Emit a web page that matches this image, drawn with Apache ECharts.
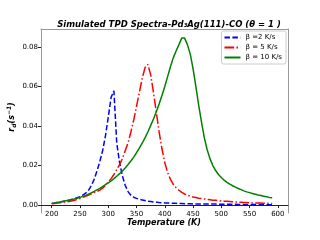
<!DOCTYPE html>
<html><head><meta charset="utf-8">
<script src="https://cdn.jsdelivr.net/npm/echarts@6/dist/echarts.min.js"></script>
<style>html,body{margin:0;padding:0;background:#fff}#c{width:320px;height:240px}</style>
</head><body><div id="c"></div>
<script>
const temps = [200,205,210,215,220,225,230,235,240,245,250,255,260,265,270,275,280,285,290,295,300,305,310,315,320,325,330,335,340,345,350,355,360,365,370,375,380,385,390,395,400,405,410,415,420,425,430,435,440,445,450,455,460,465,470,475,480,485,490,495,500,505,510,515,520,525,530,535,540,545,550,555,560,565,570,575,580,585,590];
const beta2 = [.0008,.0010,.0012,.0015,.0018,.0021,.0024,.0028,.0032,.0037,.0042,.0050,.0060,.0075,.0098,.0130,.0172,.0220,.0275,.0350,.0445,.0545,.0578,.0315,.0215,.0148,.0100,.0068,.0050,.0040,.0034,.0029,.0026,.0023,.0020,.0018,.0016,.0015,.0013,.0012,.0011,.0010,.0010,.0009,.0009,.0008,.0008,.0007,.0007,.0007,.0006,.0006,.0006,.0006,.0005,.0005,.0005,.0005,.0005,.0004,.0004,.0004,.0004,.0004,.0004,.0004,.0003,.0003,.0003,.0003,.0003,.0003,.0003,.0003,.0003,.0003,.0002,.0002,.0002];
const beta5 = [.0007,.0008,.0010,.0012,.0014,.0016,.0018,.0021,.0024,.0028,.0033,.0039,.0045,.0051,.0057,.0063,.0069,.0076,.0086,.0100,.0116,.0134,.0155,.0180,.0205,.0235,.0275,.0315,.0370,.0430,.0500,.0570,.0640,.0695,.0712,.0660,.0570,.0470,.0370,.0285,.0215,.0165,.0130,.0105,.0088,.0075,.0064,.0056,.0050,.0045,.0041,.0038,.0035,.0033,.0031,.0029,.0027,.0025,.0024,.0022,.0021,.0020,.0019,.0018,.0017,.0016,.0015,.0014,.0013,.0013,.0012,.0011,.0011,.0010,.0010,.0009,.0009,.0008,.0008];
const beta10 = [.0009,.0011,.0014,.0016,.0019,.0022,.0025,.0028,.0031,.0035,.0039,.0044,.0049,.0055,.0062,.0069,.0077,.0085,.0094,.0103,.0113,.0123,.0134,.0146,.0159,.0173,.0188,.0205,.0223,.0243,.0265,.0288,.0313,.0340,.0370,.0402,.0436,.0472,.0512,.0555,.0600,.0650,.0700,.0745,.0780,.0812,.0845,.0845,.0812,.0765,.0690,.0600,.0505,.0420,.0340,.0280,.0235,.0200,.0175,.0155,.0140,.0126,.0115,.0106,.0098,.0091,.0084,.0078,.0072,.0067,.0063,.0059,.0055,.0051,.0048,.0045,.0042,.0039,.0037];
const seriesNames = ['β =2 K/s','β = 5 K/s','β = 10 K/s'];
const xTicks = [200,250,300,350,400,450,500,550,600];
const yTicks = [0,0.02,0.04,0.06,0.08];

const F = 'DejaVu Sans';
const pair = v => temps.map((t,i)=>[t,v[i]]);
const chart = echarts.init(document.getElementById('c'), null, {renderer:'canvas'});
const spine = '#999';
const bi = {fontFamily:F, fontWeight:'bold', fontStyle:'italic', fill:'#000'};
chart.setOption({
  animation:false,
  textStyle:{fontFamily:F},
  title:{text:'Simulated TPD Spectra-Pd₃Ag(111)-CO (θ = 1 )', left:164, textAlign:'center', top:15,
    textStyle:{fontFamily:F, fontSize:8.5, fontWeight:'bold', fontStyle:'italic', color:'#000'}},
  grid:{left:41, right:32, top:29, bottom:27, containLabel:false},
  legend:{orient:'vertical', right:34, top:31, itemWidth:16, itemHeight:7, itemGap:3,
    borderColor:'#ccc', borderWidth:1, borderRadius:2, padding:[3,4,3,2], backgroundColor:'#fff',
    itemStyle:{opacity:0},
    textStyle:{fontFamily:F, fontSize:7, color:'#000'},
    data:seriesNames},
  xAxis:[{type:'value', min:181, max:618,
    axisLine:{show:true, onZero:true, onZeroAxisIndex:0, lineStyle:{color:'#222', width:1}},
    axisTick:{show:true, length:3, customValues:xTicks, lineStyle:{color:'#222'}},
    axisLabel:{customValues:xTicks, fontFamily:F, fontSize:7, color:'#000', margin:-2},
    splitLine:{show:false}},
   {type:'value', position:'top', min:181, max:618,
    axisLine:{show:true, onZero:false, lineStyle:{color:spine}}, axisTick:{show:false}, axisLabel:{show:false}, splitLine:{show:false}}],
  yAxis:[{type:'value', min:-0.0040, max:0.0891,
    axisLine:{show:true, onZero:false, lineStyle:{color:spine}},
    axisTick:{show:true, length:3, customValues:yTicks, lineStyle:{color:'#222'}},
    axisLabel:{customValues:yTicks, formatter:v=>v.toFixed(2), fontFamily:F, fontSize:7, color:'#000', margin:3},
    splitLine:{show:false}},
   {type:'value', position:'right', min:-0.0040, max:0.0891,
    axisLine:{show:true, onZero:false, lineStyle:{color:spine}}, axisTick:{show:false}, axisLabel:{show:false}, splitLine:{show:false}}],
  graphic:[
    {type:'text', x:164, y:223, style:Object.assign({text:'Temperature (K)', fontSize:8, align:'center', verticalAlign:'middle'}, bi)},
    {type:'text', x:12, y:117, rotation:Math.PI/2,
    style:{text:'{r|r}{s|d}{n|(s}{p|−1}{n|)}', x:0, y:0, align:'center', verticalAlign:'middle',
      rich:{
        r:Object.assign({fontSize:8}, bi),
        s:Object.assign({fontSize:6, padding:[4,0,0,0]}, bi),
        n:Object.assign({fontSize:8}, bi),
        p:Object.assign({fontSize:6, padding:[0,0,5,0]}, bi)
      }}}],
  series:[
    {name:seriesNames[0], type:'line', data:pair(beta2), symbol:'none', smooth:false,
      lineStyle:{color:'#0000ff', width:1.5, type:[5.5,2.4]}, itemStyle:{color:'#0000ff'}},
    {name:seriesNames[1], type:'line', data:pair(beta5), symbol:'none',
      lineStyle:{color:'#ff0000', width:1.5, type:[9.6,2.4,1.5,2.4]}, itemStyle:{color:'#ff0000'}},
    {name:seriesNames[2], type:'line', data:pair(beta10), symbol:'none',
      lineStyle:{color:'#008000', width:1.5}, itemStyle:{color:'#008000'}}
  ]
});
</script></body></html>
